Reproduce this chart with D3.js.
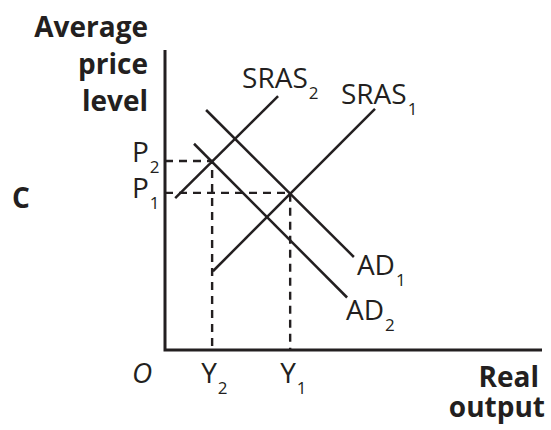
<!DOCTYPE html>
<html>
<head>
<meta charset="utf-8">
<script src="https://cdn.jsdelivr.net/npm/d3@7"></script>
<style>
  body { margin: 0; background: #fff; }
  svg { display: block; }
  .lbl { font-family: "Open Sans", "DejaVu Sans", sans-serif; fill: #231f20; }
  .bold { font-weight: 700; }
</style>
</head>
<body>
<div id="main"></div>
<script>
// curve endpoints in chart units (x: 0..100, y: 0..80)
const sras2 = [[2.7, 40.5], [30, 67.7]];
const sras1 = [[12.7, 21], [55.7, 64.3]];
const ad1 = [[10.9, 64], [50.1, 24.8]];
const ad2 = [[7.7, 55], [48.3, 14]];
// equilibria: [output, price]
const eq1 = [33.2, 41.9];
const eq2 = [12.5, 50.4];
const curveNames = ['SRAS', 'SRAS', 'AD', 'AD'];
const curveSubs = ['2', '1', '1', '2'];
const yTitle = ['Average', 'price', 'level'];
const xTitle = ['Real', 'output'];

const width = 551, height = 430;
const ink = '#231f20';

const svg = d3.select('#main').append('svg')
  .attr('width', width)
  .attr('height', height);

const x = d3.scaleLinear().domain([0, 100]).range([165, 542]);
const y = d3.scaleLinear().domain([0, 80]).range([350, 50]);

const line = d3.line()
  .x((d) => x(d[0]))
  .y((d) => y(d[1]));

// dashed guides
const guides = [
  [[0, eq2[1]], eq2, [eq2[0], 0]],
  [[0, eq1[1]], eq1, [eq1[0], 0]]
];
svg.selectAll('.guide')
  .data(guides)
.enter().append('path')
  .attr('class', 'guide')
  .attr('d', line)
  .attr('fill', 'none')
  .attr('stroke', ink)
  .attr('stroke-width', 2.4)
  .attr('stroke-dasharray', '8,6');

// curves
svg.selectAll('.curve')
  .data([sras2, sras1, ad1, ad2])
.enter().append('path')
  .attr('class', 'curve')
  .attr('d', line)
  .attr('fill', 'none')
  .attr('stroke', ink)
  .attr('stroke-width', 2.5);

// axes
svg.append('path')
  .attr('d', line([[0, 80], [0, 0], [100, 0]]))
  .attr('fill', 'none')
  .attr('stroke', ink)
  .attr('stroke-width', 3);

function subLabel(px, py, main, sub) {
  const t = svg.append('text')
    .attr('class', 'lbl')
    .attr('x', px)
    .attr('y', py)
    .style('font-size', '28px');
  t.append('tspan').text(main);
  t.append('tspan')
    .attr('dx', 1)
    .attr('dy', 11)
    .style('font-size', '17px')
    .text(sub);
  return t;
}

// curve labels, placed next to their end points
subLabel(x(sras2[1][0]) - 36, y(sras2[1][1]) - 8, curveNames[0], curveSubs[0]);
subLabel(x(sras1[1][0]) - 34, y(sras1[1][1]) - 5, curveNames[1], curveSubs[1]);
subLabel(x(ad1[1][0]) + 3, y(ad1[1][1]) + 18, curveNames[2], curveSubs[2]);
subLabel(x(ad2[1][0]) - 1, y(ad2[1][1]) + 22.5, curveNames[3], curveSubs[3]);

// price and output labels
subLabel(132, y(eq2[1]) + 1, 'P', '2');
subLabel(132, y(eq1[1]) + 5, 'P', '1');
subLabel(x(eq2[0]) - 11, 383, 'Y', '2');
subLabel(x(eq1[0]) - 10, 383, 'Y', '1');

svg.append('text')
  .attr('class', 'lbl')
  .attr('x', 132)
  .attr('y', 383)
  .style('font-size', '28px')
  .style('font-style', 'italic')
  .text('O');

// axis titles
svg.selectAll('.ytitle')
  .data(yTitle)
.enter().append('text')
  .attr('class', 'lbl bold ytitle')
  .attr('x', 148)
  .attr('y', (d, i) => 37 + i * 37)
  .attr('text-anchor', 'end')
  .style('font-size', '28px')
  .text((d) => d);

svg.selectAll('.xtitle')
  .data(xTitle)
.enter().append('text')
  .attr('class', 'lbl bold xtitle')
  .attr('x', (d, i) => i == 0 ? 539 : 545)
  .attr('y', (d, i) => 387 + i * 30)
  .attr('text-anchor', 'end')
  .style('font-size', '28px')
  .text((d) => d);

svg.append('text')
  .attr('class', 'lbl bold')
  .attr('x', 12)
  .attr('y', 208)
  .style('font-size', '28px')
  .text('C');
</script>
</body>
</html>
